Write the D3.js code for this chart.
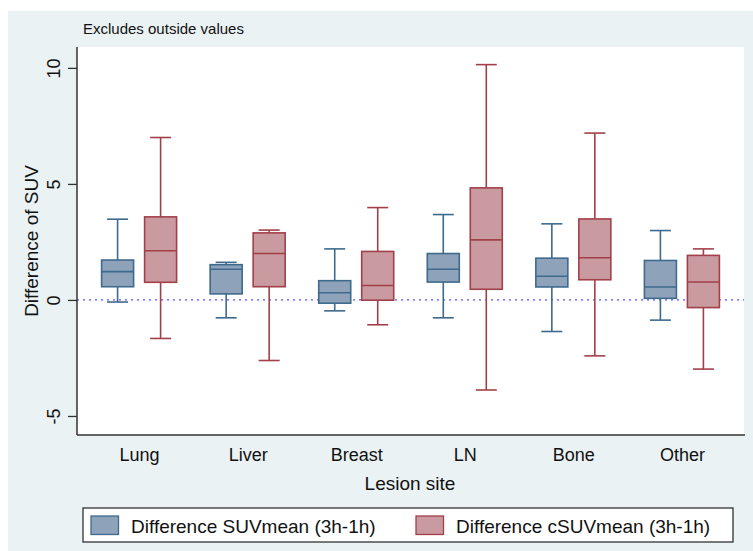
<!DOCTYPE html>
<html>
<head>
<meta charset="utf-8">
<script src="https://cdn.jsdelivr.net/npm/d3@7"></script>
<style>
  body { margin: 0; background: #fff; }
  svg { display: block; font-family: "Liberation Sans", Arial, sans-serif; }
</style>
</head>
<body>
<script>
// categories and box statistics
var sites = ["Lung", "Liver", "Breast", "LN", "Bone", "Other"];

var suvLow    = [-0.09, -0.77, -0.47, -0.77, -1.36, -0.87];
var suvQ1     = [0.57, 0.26, -0.14, 0.77, 0.56, 0.07];
var suvMedian = [1.22, 1.32, 0.31, 1.32, 1.02, 0.56];
var suvQ3     = [1.72, 1.52, 0.83, 2.00, 1.80, 1.70];
var suvHigh   = [3.48, 1.62, 2.20, 3.68, 3.28, 2.99];

var csuvLow    = [-1.66, -2.61, -1.07, -3.88, -2.41, -2.98];
var csuvQ1     = [0.76, 0.57, -0.01, 0.46, 0.87, -0.33];
var csuvMedian = [2.12, 2.00, 0.62, 2.59, 1.82, 0.77];
var csuvQ3     = [3.58, 2.89, 2.09, 4.83, 3.49, 1.92];
var csuvHigh   = [7.00, 3.01, 3.98, 10.14, 7.19, 2.20];

var yTicks = [-5, 0, 5, 10];
var seriesNames = ["Difference SUVmean (3h-1h)", "Difference cSUVmean (3h-1h)"];

var W = 753, H = 551;
var plot = {left: 77, right: 744, top: 47, bottom: 435};

var svg = d3.select("body").append("svg")
    .attr("width", W)
    .attr("height", H);

// outer graph region
svg.append("rect")
    .attr("x", 8).attr("y", 11)
    .attr("width", W - 8).attr("height", H - 11)
    .style("fill", "#eaf2f4");

// plot region
svg.append("rect")
    .attr("x", plot.left).attr("y", plot.top)
    .attr("width", plot.right - plot.left).attr("height", plot.bottom - plot.top)
    .style("fill", "#fff");

var x = d3.scalePoint().domain(sites).range([plot.left, plot.right]).padding(0.572);
var y = d3.scaleLinear().domain([-5.82, 10.9]).range([plot.bottom, plot.top]);

var series = [
  {name: seriesNames[0], fill: "#8ea3b9", stroke: "#3e6a8e", off: -21.5,
   low: suvLow, q1: suvQ1, med: suvMedian, q3: suvQ3, high: suvHigh},
  {name: seriesNames[1], fill: "#c99a9f", stroke: "#a2404a", off: 21.5,
   low: csuvLow, q1: csuvQ1, med: csuvMedian, q3: csuvQ3, high: csuvHigh}
];

var boxW = 32, capW = 21;

// zero reference line
svg.append("line")
    .attr("x1", plot.left).attr("x2", plot.right)
    .attr("y1", y(0)).attr("y2", y(0))
    .style("stroke", "#5555ff")
    .style("stroke-width", 1.3)
    .style("stroke-dasharray", "2,4");

let drawLine = (g, x1, x2, y1, y2, color) => {
  g.append("line")
      .attr("x1", x1).attr("x2", x2)
      .attr("y1", y1).attr("y2", y2)
      .style("stroke", color).style("stroke-width", 1.6);
};

series.forEach(function(s) {
  var g = svg.append("g");
  sites.forEach(function(site, i) {
    var cx = x(site) + s.off;
    // whiskers and caps
    drawLine(g, cx, cx, y(s.high[i]), y(s.q3[i]), s.stroke);
    drawLine(g, cx, cx, y(s.q1[i]), y(s.low[i]), s.stroke);
    drawLine(g, cx - capW / 2, cx + capW / 2, y(s.high[i]), y(s.high[i]), s.stroke);
    drawLine(g, cx - capW / 2, cx + capW / 2, y(s.low[i]), y(s.low[i]), s.stroke);
    // box and median
    g.append("rect")
        .attr("x", cx - boxW / 2)
        .attr("y", y(s.q3[i]))
        .attr("width", boxW)
        .attr("height", y(s.q1[i]) - y(s.q3[i]))
        .style("fill", s.fill)
        .style("stroke", s.stroke)
        .style("stroke-width", 1.6);
    drawLine(g, cx - boxW / 2, cx + boxW / 2, y(s.med[i]), y(s.med[i]), s.stroke);
  });
});

// y axis
var yAxis = svg.append("g")
    .attr("transform", "translate(" + plot.left + ",0)")
    .call(d3.axisLeft(y).tickValues(yTicks).tickFormat(d => String(d))
      .tickSize(9).tickSizeOuter(0));
yAxis.select(".domain")
    .attr("d", "M0," + plot.top + "V" + plot.bottom)
    .style("stroke", "#333").style("stroke-width", 1.5);
yAxis.selectAll(".tick line").style("stroke", "#333").style("stroke-width", 1.3);
yAxis.selectAll(".tick text")
    .attr("x", null).attr("dy", null)
    .attr("transform", "translate(-17,0) rotate(-90)")
    .attr("text-anchor", "middle")
    .style("font-size", "18px")
    .style("font-family", "Liberation Sans, Arial, sans-serif")
    .style("fill", "#111");

// x axis
var xAxis = svg.append("g")
    .attr("transform", "translate(0," + plot.bottom + ")")
    .call(d3.axisBottom(x).tickSize(0).tickSizeOuter(0));
xAxis.select(".domain")
    .attr("d", "M" + plot.left + ",0H" + (plot.right + 1))
    .style("stroke", "#333").style("stroke-width", 1.5);
xAxis.selectAll(".tick text")
    .attr("y", 25.5).attr("dy", null)
    .style("font-size", "18px")
    .style("font-family", "Liberation Sans, Arial, sans-serif")
    .style("fill", "#111");

// titles
svg.append("text")
    .attr("x", 410).attr("y", 490)
    .attr("text-anchor", "middle")
    .style("font-size", "19px")
    .style("fill", "#111")
    .text("Lesion site");

svg.append("text")
    .attr("transform", "translate(38," + ((plot.top + plot.bottom) / 2) + ") rotate(-90)")
    .attr("text-anchor", "middle")
    .style("font-size", "19px")
    .style("fill", "#111")
    .text("Difference of SUV");

svg.append("text")
    .attr("x", 83).attr("y", 34)
    .style("font-size", "15px")
    .style("fill", "#111")
    .text("Excludes outside values");

// legend
var legend = svg.append("g");
legend.append("rect")
    .attr("x", 83).attr("y", 508)
    .attr("width", 650).attr("height", 34)
    .style("fill", "#fff")
    .style("stroke", "#333")
    .style("stroke-width", 1.3);

var legendX = [91, 416];
series.forEach(function(s, i) {
  legend.append("rect")
      .attr("x", legendX[i]).attr("y", 516)
      .attr("width", 27.5).attr("height", 18.5)
      .style("fill", s.fill)
      .style("stroke", s.stroke)
      .style("stroke-width", 1.3);
  legend.append("text")
      .attr("x", legendX[i] + 40).attr("y", 533)
      .style("font-size", "19px")
      .style("fill", "#111")
      .text(s.name);
});
</script>
</body>
</html>
